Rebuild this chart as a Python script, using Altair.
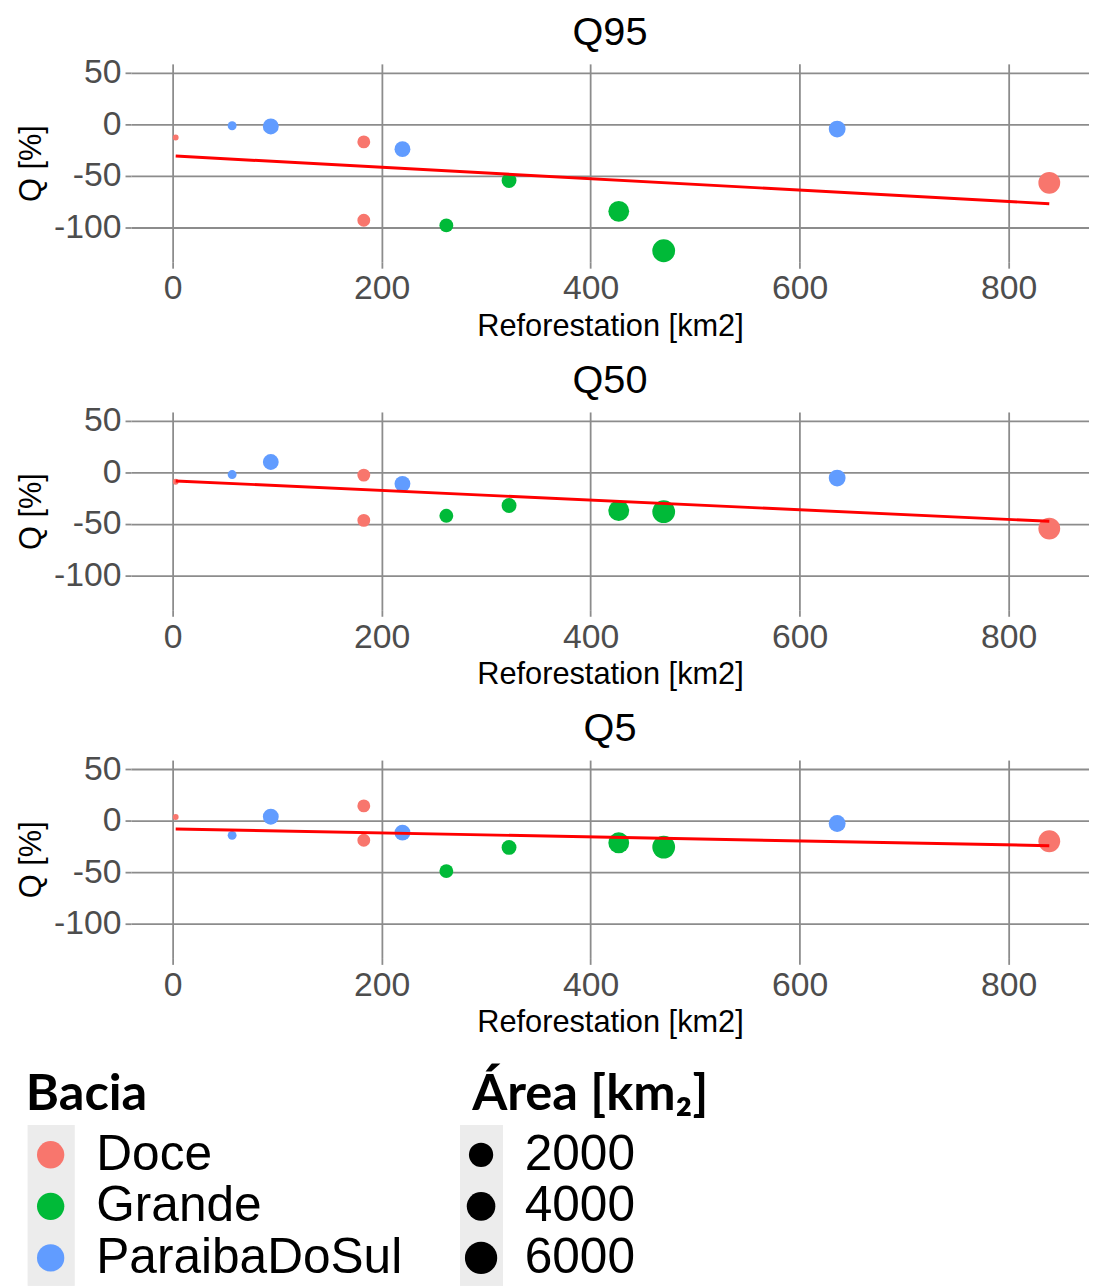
import altair as alt
import pandas as pd

# ---- data ----
reforestation = [3, 57, 94, 183, 183, 220, 262, 322, 427, 470, 636, 839]
bacia = ["Doce", "ParaibaDoSul", "ParaibaDoSul", "Doce", "Doce", "ParaibaDoSul",
         "Grande", "Grande", "Grande", "Grande", "ParaibaDoSul", "Doce"]
area_km2 = [150, 830, 3450, 2150, 2150, 3450, 2550, 2990, 6220, 7530, 3940, 6860]
q95 = [-12.7, -1.3, -2.0, -17.0, -93.0, -24.0, -98.0, -54.5, -84.4, -122.6, -4.5, -56.7]
q50 = [-9.0, -2.0, 10.2, -2.5, -46.4, -11.0, -42.0, -32.0, -37.0, -38.0, -5.4, -54.4]
q5 = [3.5, -14.3, 3.8, 14.3, -19.0, -11.7, -49.0, -26.0, -21.5, -25.7, -2.8, -20.0]

panel_names = ["Q95", "Q50", "Q5"]
basins = ["Doce", "Grande", "ParaibaDoSul"]
basin_colors = ["#F8766D", "#00BA38", "#619CFF"]
legend_areas = [2000, 4000, 6000]
x_ticks = [0, 200, 400, 600, 800]
y_ticks = [-100, -50, 0, 50]

df = pd.DataFrame({
    "Reforestation": reforestation,
    "Bacia": bacia,
    "Area": area_km2,
    "Q95": q95,
    "Q50": q50,
    "Q5": q5,
})

FONT = "Liberation Sans"
GRID = "#8c8c8c"


def panel(name):
    base = alt.Chart(df)
    x = alt.X("Reforestation:Q",
              scale=alt.Scale(domain=[-39.8, 877], nice=False, zero=False),
              axis=alt.Axis(values=x_ticks, title="Reforestation [km2]"))
    y = alt.Y(f"{name}:Q",
              scale=alt.Scale(domain=[-133.75, 58.75], nice=False, zero=False),
              axis=alt.Axis(values=y_ticks, title="Q [%]",
                            labelExpr="'' + datum.value"))
    pts = base.mark_circle(opacity=1).encode(
        x=x, y=y,
        color=alt.Color("Bacia:N", scale=alt.Scale(domain=basins, range=basin_colors), legend=None),
        size=alt.Size("Area:Q", scale=alt.Scale(domain=[0, 8000], range=[25, 560], zero=False), legend=None),
    )
    line = base.transform_regression("Reforestation", name).mark_line(
        color="#ff0000", strokeWidth=3
    ).encode(x=alt.X("Reforestation:Q"), y=alt.Y(f"{name}:Q"))
    return alt.layer(pts, line).properties(
        width=966, height=200,
        title=alt.TitleParams(text=name, fontSize=40, font=FONT, fontWeight="normal",
                              color="black", anchor="middle", offset=3),
    )


panels = [panel(n) for n in panel_names]

# ---- custom legends (drawn larger, as in the reference) ----
leg_a_df = pd.DataFrame({"Bacia": basins})
leg_b_df = pd.DataFrame({"AreaLegend": legend_areas})
LH = 156
legend_title = dict(fontSize=51, font="Lato", fontWeight="bold", color="black",
                    anchor="start", frame="group", offset=4, lineHeight=12)

strip_a = alt.Chart(leg_a_df).mark_rect(color="#ececec").encode(
    x=alt.value(-104), x2=alt.value(-57), y=alt.value(-4), y2=alt.value(LH + 2))
dots_a = alt.Chart(leg_a_df).mark_circle(opacity=1, size=760).encode(
    x=alt.value(-81),
    y=alt.Y("Bacia:N", sort=basins, axis=None),
    color=alt.Color("Bacia:N", scale=alt.Scale(domain=basins, range=basin_colors), legend=None),
)
text_a = alt.Chart(leg_a_df).mark_text(align="left", baseline="middle", fontSize=50,
                                       font=FONT, color="black").encode(
    x=alt.value(-35), y=alt.Y("Bacia:N", sort=basins, axis=None), text="Bacia:N")
legend_a = alt.layer(strip_a, dots_a, text_a).properties(
    width=280, height=LH,
    title=alt.TitleParams(text=["", "Bacia"], dx=-106, **legend_title))

strip_b = alt.Chart(leg_b_df).mark_rect(color="#ececec").encode(
    x=alt.value(0), x2=alt.value(43), y=alt.value(-4), y2=alt.value(LH + 2))
dots_b = alt.Chart(leg_b_df).mark_circle(opacity=1, color="black").encode(
    x=alt.value(21),
    y=alt.Y("AreaLegend:O", axis=None),
    size=alt.Size("AreaLegend:Q", scale=alt.Scale(domain=[0, 6000], range=[370, 1060], zero=False),
                  legend=None),
)
text_b = alt.Chart(leg_b_df).mark_text(align="left", baseline="middle", fontSize=50,
                                       font=FONT, color="black").encode(
    x=alt.value(65), y=alt.Y("AreaLegend:O", axis=None), text="AreaLegend:O")
legend_b = alt.layer(strip_b, dots_b, text_b).properties(
    width=300, height=LH,
    title=alt.TitleParams(text=["", "Área [km₂]"], dx=12, **legend_title))

legend_row = alt.hconcat(legend_a, legend_b, spacing=52).resolve_scale(
    size="independent", y="independent", x="independent")

chart = alt.vconcat(*panels, legend_row, spacing=20).resolve_scale(
    x="independent", y="independent", size="independent", color="shared"
).properties(
    padding={"left": 7, "top": 0, "right": 0, "bottom": 0},
    background="white",
).configure_view(stroke=None).configure_axis(
    domain=False,
    grid=True,
    gridColor=GRID,
    gridWidth=1.8,
    tickColor=GRID,
    tickWidth=1.8,
    tickSize=6,
    labelFont=FONT,
    labelFontSize=34,
    labelColor="#4d4d4d",
    labelPadding=4,
    titleFont=FONT,
    titleFontSize=31,
    titleFontWeight="normal",
    titleColor="black",
    titlePadding=6,
)

chart.save("out.html", embed_options={"renderer": "svg", "actions": False})
